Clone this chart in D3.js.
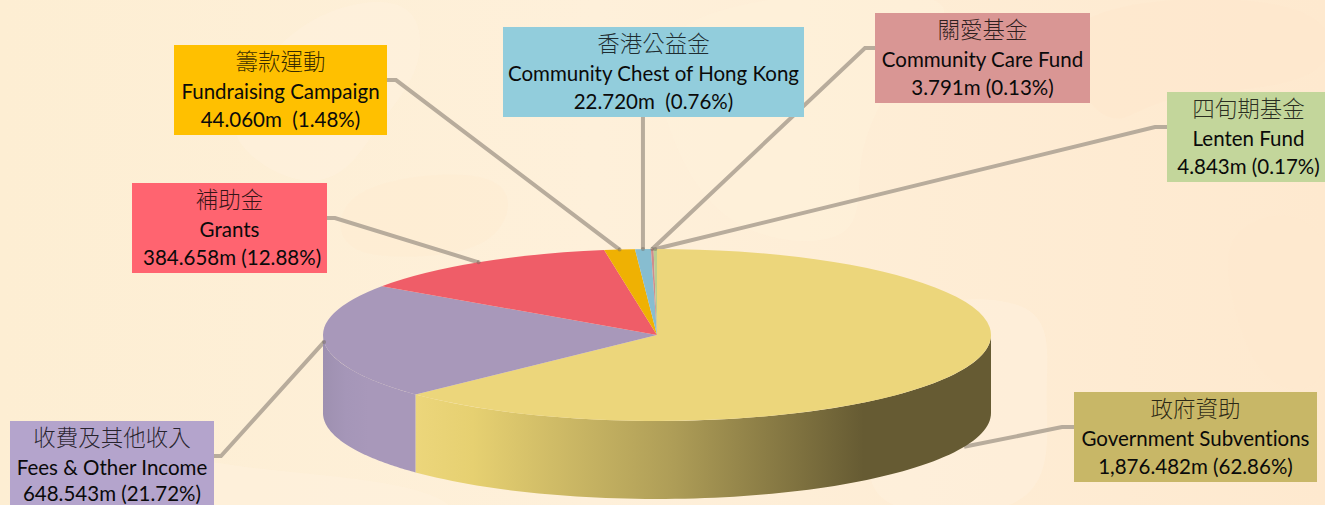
<!DOCTYPE html>
<html>
<head>
<meta charset="utf-8">
<script src="https://cdnjs.cloudflare.com/ajax/libs/d3/7.8.2/d3.min.js"></script>
<style>
  html, body { margin: 0; padding: 0; background: #fdeed6; overflow: hidden; }
  svg { display: block; }
  text { text-anchor: middle; white-space: pre; font-variant-ligatures: none; }
  .zh { font-family: "Noto Sans CJK TC", sans-serif; font-size: 22.5px; font-weight: 300; fill: #000; fill-opacity: 0.78; }
  .en { font-family: Lato, "Open Sans", sans-serif; font-size: 20.5px; fill: #0a0a0a; }
</style>
</head>
<body>
<svg id="chart" width="1325" height="505"></svg>
<script>
// Data
const namesZh = ['政府資助', '收費及其他收入', '補助金', '籌款運動', '香港公益金', '關愛基金', '四旬期基金'];
const namesEn = ['Government Subventions', 'Fees & Other Income', 'Grants', 'Fundraising Campaign', 'Community Chest of Hong Kong', 'Community Care Fund', 'Lenten Fund'];
const amounts = [1876.482, 648.543, 384.658, 44.060, 22.720, 3.791, 4.843];
const valueLabels = ['1,876.482m (62.86%)', '648.543m (21.72%)', ' 384.658m (12.88%)', '44.060m  (1.48%)', '22.720m  (0.76%)', '3.791m (0.13%)', '4.843m (0.17%)'];

// Colours and layout
const topColors = ['#ecd67b', '#a898ba', '#ef5d68', '#efb103', '#87bdd0', '#d08c8b', '#b9cd92'];
const boxColors = ['#c8b767', '#b4a4cc', '#ff6470', '#ffc000', '#92cddc', '#d99694', '#c3d69b'];
const boxes = [
  { x: 1074, y: 392, w: 243, h: 90, side: 'left', elbow: 1062, valueY: 82 },
  { x: 10, y: 421, w: 204, h: 90, side: 'right', elbow: 221, valueY: 79.5 },
  { x: 132, y: 183, w: 195, h: 90, side: 'right', elbow: 335, valueY: 82 },
  { x: 174, y: 45, w: 213, h: 90, side: 'right', elbow: 396, valueY: 82 },
  { x: 503, y: 27, w: 301, h: 90, side: 'bottom', valueY: 82 },
  { x: 875, y: 13, w: 215, h: 90, side: 'left', elbow: 865, valueY: 82 },
  { x: 1167, y: 92, w: 163, h: 90, side: 'left', elbow: 1155, valueY: 82 }
];

const width = 1325, height = 505;
const cx = 657, cy = 335, rx = 334, ry = 86, depth = 78;

const svg = d3.select('#chart');
const defs = svg.append('defs');

// Background wash
const bg = defs.append('linearGradient').attr('id', 'bg')
  .attr('x1', 0).attr('x2', 1).attr('y1', 0).attr('y2', 0);
bg.append('stop').attr('offset', 0).attr('stop-color', '#fdeed3');
bg.append('stop').attr('offset', 0.45).attr('stop-color', '#fef0da');
bg.append('stop').attr('offset', 1).attr('stop-color', '#fee9cf');
svg.append('rect').attr('width', width).attr('height', height).attr('fill', 'url(#bg)');

const blob = d3.line().curve(d3.curveBasisClosed);
const blobs = [
  { fill: '#fff2df', pts: [[305, 10], [420, -10], [425, 70], [380, 120], [345, 180], [290, 185], [225, 140], [240, 90]] },
  { fill: '#feebd0', pts: [[340, 190], [440, 170], [520, 180], [500, 250], [400, 260], [335, 250]] },
  { fill: '#fff1dc', pts: [[640, 0], [1000, -20], [900, 60], [850, 160], [870, 250], [720, 240], [660, 120]] },
  { fill: '#fff2df', pts: [[870, 300], [1060, 290], [1040, 390], [1060, 520], [850, 520], [880, 420]] },
  { fill: '#fee7cb', pts: [[1040, 0], [1340, -10], [1340, 90], [1160, 90], [1120, 130], [1080, 100]] },
  { fill: '#fee9cf', pts: [[1220, 220], [1340, 200], [1340, 400], [1260, 390], [1230, 300]] },
  { fill: '#fff2df', pts: [[120, 440], [230, 470], [420, 480], [500, 530], [110, 530]] }
];
svg.append('g').selectAll('path').data(blobs).join('path')
  .attr('d', d => blob(d.pts)).attr('fill', d => d.fill).attr('opacity', 0.45);

// Pie angles, from 12 o'clock going clockwise
const pie = d3.pie().sort(null).value(d => d);
const slices = pie(amounts);

const px = a => cx + rx * Math.sin(a);
const py = a => cy - ry * Math.cos(a);

// Side wall gradients
const govGrad = defs.append('linearGradient').attr('id', 'wallGov')
  .attr('gradientUnits', 'userSpaceOnUse').attr('x1', 415).attr('x2', 990).attr('y1', 0).attr('y2', 0);
[[0, '#ecd67b'], [0.1, '#e6d071'], [0.45, '#ae9d57'], [0.78, '#665b33'], [1, '#665b33']].forEach(s =>
  govGrad.append('stop').attr('offset', s[0]).attr('stop-color', s[1]));
const feesGrad = defs.append('linearGradient').attr('id', 'wallFees')
  .attr('gradientUnits', 'userSpaceOnUse').attr('x1', 323).attr('x2', 415).attr('y1', 0).attr('y2', 0);
[[0, '#9e90b0'], [0.25, '#a596b8'], [0.5, '#a898ba'], [1, '#a898ba']].forEach(s =>
  feesGrad.append('stop').attr('offset', s[0]).attr('stop-color', s[1]));

// Wall path along the rim of a slice, only the part facing the viewer
function wallPath(a0, a1) {
  const start = Math.max(a0, Math.PI / 2);
  const end = Math.min(a1, Math.PI * 1.5);
  const rim = d3.range(0, 81).map(i => start + (end - start) * i / 80);
  const top = rim.map(a => [px(a), py(a)]);
  const bottom = rim.slice().reverse().map(a => [px(a), py(a) + depth]);
  return d3.line()(top.concat(bottom)) + 'Z';
}

// Leader lines sit under the pie
const leader = d3.line();
const lines = svg.append('g').attr('fill', 'none').attr('stroke', '#b8ac9c').attr('stroke-width', 4);
slices.forEach((s, i) => {
  const b = boxes[i];
  const mid = (s.startAngle + s.endAngle) / 2;
  // rim point of the slice; the government slice is met on its wall
  const end = [px(mid), py(mid) + (i === 0 ? depth : 0)];
  let pts;
  if (b.side === 'bottom') {
    pts = [[end[0], b.y + b.h], end];
  } else {
    const edge = b.side === 'left' ? b.x : b.x + b.w;
    const yMid = b.y + b.h * 0.39;
    pts = [[edge, yMid], [b.elbow, yMid], end];
  }
  lines.append('path').attr('d', leader(pts));
});

// Walls
const walls = svg.append('g');
walls.append('path').attr('d', wallPath(slices[0].startAngle, slices[0].endAngle)).attr('fill', 'url(#wallGov)');
walls.append('path').attr('d', wallPath(slices[1].startAngle, slices[1].endAngle)).attr('fill', 'url(#wallFees)');

// Top face: a flat d3.arc squashed into the ellipse
const arc = d3.arc().innerRadius(0).outerRadius(rx);
svg.append('g')
  .attr('transform', `translate(${cx},${cy}) scale(1,${ry / rx})`)
  .selectAll('path').data(slices).join('path')
  .attr('d', arc)
  .attr('fill', (d, i) => topColors[i]);

// The ends of the leaders that touch the rim show as a small dark tip
slices.forEach((s, i) => {
  if (i === 0) return;
  const mid = (s.startAngle + s.endAngle) / 2;
  svg.append('circle').attr('cx', px(mid)).attr('cy', py(mid)).attr('r', 2)
    .attr('fill', '#6f6558').attr('opacity', 0.45);
});

// Label boxes
const labels = svg.append('g').selectAll('g').data(boxes).join('g')
  .attr('transform', d => `translate(${d.x},${d.y})`);
labels.append('rect')
  .attr('width', d => d.w).attr('height', d => d.h)
  .attr('fill', (d, i) => boxColors[i]);
labels.append('text').attr('class', 'zh')
  .attr('x', d => d.w / 2).attr('y', 25)
  .text((d, i) => namesZh[i]);
labels.append('text').attr('class', 'en')
  .attr('x', d => d.w / 2).attr('y', 54)
  .text((d, i) => namesEn[i]);
labels.append('text').attr('class', 'en')
  .attr('x', d => d.w / 2).attr('y', d => d.valueY)
  .text((d, i) => valueLabels[i]);
</script>
</body>
</html>
